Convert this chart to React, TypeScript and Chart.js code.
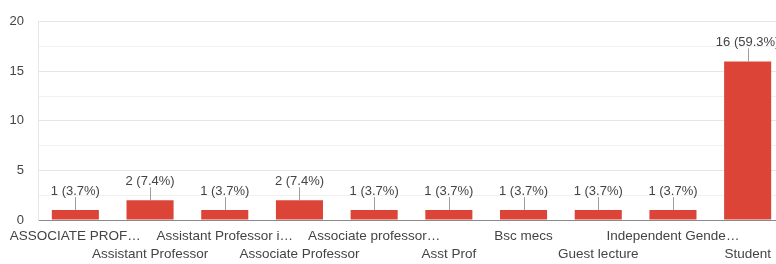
import React, { useEffect, useRef } from "react";
import { Chart, registerables } from "chart.js";

Chart.register(...registerables);

const categories: string[] = [
  "ASSOCIATE PROF…",
  "Assistant Professor",
  "Assistant Professor i…",
  "Associate Professor",
  "Associate professor…",
  "Asst Prof",
  "Bsc mecs",
  "Guest lecture",
  "Independent Gende…",
  "Student",
];
const counts: number[] = [1, 2, 1, 2, 1, 1, 1, 1, 1, 16];
const yTickValues: number[] = [0, 5, 10, 15, 20];

const FONT = '"Liberation Sans", Arial, sans-serif';
const TEXT = "#444444";

const valueLabels = {
  id: "valueLabels",
  afterDatasetsDraw(chart: any) {
    const { ctx } = chart;
    const meta = chart.getDatasetMeta(0);
    const total = counts.reduce((a, b) => a + b, 0);
    ctx.save();
    ctx.font = `13px ${FONT}`;
    ctx.textAlign = "center";
    ctx.textBaseline = "middle";
    meta.data.forEach((bar: any, i: number) => {
      const v = counts[i];
      const pct = ((v / total) * 100).toFixed(1);
      const x = bar.x;
      const top = bar.y;
      const lx = Math.round(x) + 0.5;
      ctx.strokeStyle = "#9e9e9e";
      ctx.lineWidth = 1;
      ctx.beginPath();
      ctx.moveTo(lx, top);
      ctx.lineTo(lx, top - 13);
      ctx.stroke();
      ctx.fillStyle = TEXT;
      ctx.fillText(`${v} (${pct}%)`, x, top - 19);
    });
    ctx.restore();
  },
};

export default function App() {
  const ref = useRef<HTMLCanvasElement | null>(null);

  useEffect(() => {
    if (!ref.current) return;
    const chart = new Chart(ref.current, {
      type: "bar",
      data: {
        labels: categories,
        datasets: [
          {
            data: counts,
            backgroundColor: "#db4437",
            borderWidth: 0,
            barPercentage: 0.63,
            categoryPercentage: 1,
          },
        ],
      },
      options: {
        responsive: false,
        animation: false,
        layout: { padding: { top: 16, right: 15, left: 0, bottom: 0 } },
        plugins: {
          legend: { display: false },
          tooltip: { enabled: false },
        },
        scales: {
          x: {
            grid: { display: false, drawTicks: false },
            border: { display: true, color: "#8a8a8a", width: 1 },
            ticks: {
              autoSkip: false,
              maxRotation: 0,
              minRotation: 0,
              padding: 7,
              color: TEXT,
              font: { family: FONT, size: 13.5, lineHeight: 1.35 },
              callback: (_v: any, index: number) =>
                index % 2 === 0 ? categories[index] : ["", categories[index]],
            },
            afterFit: (scale: any) => {
              scale.height = 44;
            },
          },
          y: {
            min: 0,
            max: 20,
            grid: {
              drawTicks: false,
              color: (c: any) =>
                c.tick && yTickValues.includes(c.tick.value) ? "#e6e6e6" : "#f1f1f1",
            },
            border: { display: true, color: "#e6e6e6" },
            ticks: {
              stepSize: 2.5,
              padding: 14,
              color: TEXT,
              font: { family: FONT, size: 13 },
              callback: (v: any) => (yTickValues.includes(Number(v)) ? String(v) : ""),
            },
            afterFit: (scale: any) => {
              scale.width = 38;
            },
          },
        },
      },
      plugins: [valueLabels],
    });
    return () => chart.destroy();
  }, []);

  return (
    <div
      style={{
        position: "absolute",
        left: 0,
        top: 0,
        width: 776,
        height: 264,
        overflow: "hidden",
        background: "#ffffff",
      }}
    >
      <canvas ref={ref} width={800} height={264} style={{ display: "block" }} />
    </div>
  );
}
